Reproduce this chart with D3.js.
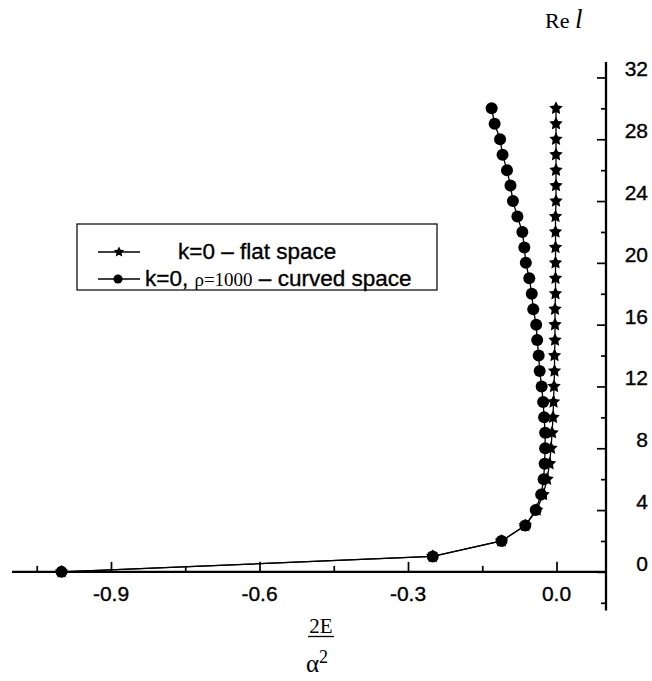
<!DOCTYPE html>
<html>
<head>
<meta charset="utf-8">
<script src="https://cdn.jsdelivr.net/npm/d3@7"></script>
<style>
  html, body { margin: 0; padding: 0; background: #fff; }
  svg { display: block; }
  .sans { font-family: "Liberation Sans", Arial, Helvetica, sans-serif; stroke: #000; stroke-width: 0.35px; }
  .serif { font-family: "Liberation Serif", "Times New Roman", serif; }
</style>
</head>
<body>
<svg id="chart" width="652" height="681"></svg>
<script>
// Orbital angular momentum Re l versus reduced energy 2E/α²
const lValues = [0, 1, 2, 3, 4, 5, 6, 7, 8, 9, 10, 11, 12, 13, 14, 15,
                 16, 17, 18, 19, 20, 21, 22, 23, 24, 25, 26, 27, 28, 29, 30];

// k=0, flat space
const flatEnergy = [-1.000, -0.250, -0.111, -0.063, -0.040, -0.027, -0.019, -0.014,
                    -0.011, -0.009, -0.007, -0.006, -0.005, -0.004, -0.004, -0.003,
                    -0.003, -0.003, -0.002, -0.002, -0.002, -0.002, -0.002, -0.002,
                    -0.001, -0.001, -0.001, -0.001, -0.001, -0.001, -0.001];

// k=0, rho=1000, curved space
const curvedEnergy = [-1.000, -0.250, -0.111, -0.063, -0.042, -0.031, -0.026, -0.024,
                      -0.023, -0.023, -0.025, -0.027, -0.030, -0.034, -0.036, -0.039,
                      -0.041, -0.047, -0.050, -0.055, -0.062, -0.065, -0.069, -0.079,
                      -0.088, -0.093, -0.100, -0.109, -0.114, -0.125, -0.131];

const xTicksMajor = [-0.9, -0.6, -0.3, 0.0];
const xTicksMinor = [-1.05, -0.75, -0.45, -0.15];
const yTicksMajor = [0, 4, 8, 12, 16, 20, 24, 28, 32];
const yTicksMinor = [-2, 2, 6, 10, 14, 18, 22, 26, 30];

const legendLabels = ["k=0 \u2013 flat space", "k=0, ", "\u03c1=1000", " \u2013 curved space"];

const svg = d3.select("#chart");

const x = d3.scaleLinear().domain([-1.1, 0.1]).range([12, 606]);
const y = d3.scaleLinear().domain([-2.5, 33]).range([610.5, 62]);

const flatData = lValues.map((l, i) => ({ l, e: flatEnergy[i] }));
const curvedData = lValues.map((l, i) => ({ l, e: curvedEnergy[i] }));

const line = d3.line().x(d => x(d.e)).y(d => y(d.l));

// five-pointed star with a fuller body than d3.symbolStar
const fatStar = {
  draw(context, size) {
    const R = Math.sqrt(size / 1.2);
    const r = R * 0.5;
    for (let i = 0; i < 10; ++i) {
      const a = -Math.PI / 2 + i * Math.PI / 5;
      const rad = i % 2 ? r : R;
      const px = rad * Math.cos(a), py = rad * Math.sin(a);
      if (i === 0) context.moveTo(px, py); else context.lineTo(px, py);
    }
    context.closePath();
  }
};
const star = d3.symbol().type(fatStar);
const fmt = v => d3.format(".1f")(v).replace("\u2212", "-");

// ---- x axis (drawn through y = 0), ticks point up into the plot
const xAxisG = svg.append("g").attr("transform", `translate(0,${y(0)})`);
xAxisG.append("g")
  .call(d3.axisTop(x).tickValues(xTicksMajor).tickSize(10).tickFormat(""))
  .call(g => g.select(".domain").remove());
xAxisG.append("g")
  .call(d3.axisTop(x).tickValues(xTicksMinor).tickSize(6).tickFormat(""))
  .call(g => g.select(".domain").remove());
xAxisG.selectAll(".tick line").attr("stroke", "#000").attr("stroke-width", 1.7);
xAxisG.append("line")
  .attr("x1", x.range()[0]).attr("x2", x.range()[1])
  .attr("stroke", "#000").attr("stroke-width", 2.3);
xAxisG.selectAll("text.xlab")
  .data(xTicksMajor).join("text")
  .attr("class", "xlab sans")
  .attr("x", d => x(d)).attr("y", 29)
  .attr("text-anchor", "middle")
  .attr("font-size", 21)
  .text(fmt);

// ---- y axis (drawn at right edge), ticks point left into the plot
const yAxisG = svg.append("g").attr("transform", `translate(${x(0.1)},0)`);
yAxisG.append("g")
  .call(d3.axisLeft(y).tickValues(yTicksMajor).tickSize(9).tickFormat(""))
  .call(g => g.select(".domain").remove());
yAxisG.append("g")
  .call(d3.axisLeft(y).tickValues(yTicksMinor).tickSize(5).tickFormat(""))
  .call(g => g.select(".domain").remove());
yAxisG.selectAll(".tick line").attr("stroke", "#000").attr("stroke-width", 1.7);
yAxisG.append("line")
  .attr("y1", y.range()[0]).attr("y2", y.range()[1])
  .attr("stroke", "#000").attr("stroke-width", 2.3);
yAxisG.selectAll("text.ylab")
  .data(yTicksMajor).join("text")
  .attr("class", "ylab sans")
  .attr("x", 42).attr("y", d => y(d) - 1)
  .attr("text-anchor", "end")
  .attr("font-size", 21)
  .text(d => d);

// ---- series: flat space (stars)
svg.append("path").datum(flatData)
  .attr("d", line).attr("fill", "none")
  .attr("stroke", "#000").attr("stroke-width", 1.3);
svg.append("g").selectAll("path")
  .data(flatData).join("path")
  .attr("transform", d => `translate(${x(d.e)},${y(d.l)})`)
  .attr("d", star.size(60)())
  .attr("fill", "#000");

// ---- series: curved space (filled circles)
svg.append("path").datum(curvedData)
  .attr("d", line).attr("fill", "none")
  .attr("stroke", "#000").attr("stroke-width", 1.3);
svg.append("g").selectAll("circle")
  .data(curvedData).join("circle")
  .attr("cx", d => x(d.e)).attr("cy", d => y(d.l))
  .attr("r", 6).attr("fill", "#000");

// ---- axis titles
const yTitle = svg.append("text").attr("class", "serif")
  .attr("x", 545).attr("y", 28).attr("font-size", 22);
yTitle.append("tspan").text("Re ");
yTitle.append("tspan").attr("font-style", "italic").attr("font-size", 27).text("l");

const xTitle = svg.append("g").attr("class", "serif");
xTitle.append("text")
  .attr("x", 321).attr("y", 633).attr("text-anchor", "middle")
  .attr("font-size", 21).text("2E");
xTitle.append("line")
  .attr("x1", 308).attr("x2", 334).attr("y1", 636.5).attr("y2", 636.5)
  .attr("stroke", "#000").attr("stroke-width", 1.3);
const alpha = xTitle.append("text").attr("x", 306).attr("y", 672).attr("font-size", 25);
alpha.append("tspan").text("\u03b1");
alpha.append("tspan").attr("font-size", 18).attr("dy", -9).text("2");

// ---- legend
const legend = svg.append("g");
legend.append("rect")
  .attr("x", 77).attr("y", 224).attr("width", 360).attr("height", 66)
  .attr("fill", "#fff").attr("stroke", "#000").attr("stroke-width", 1.2);

legend.append("line").attr("x1", 98).attr("x2", 140).attr("y1", 252).attr("y2", 252)
  .attr("stroke", "#000").attr("stroke-width", 1.3);
legend.append("path").attr("transform", "translate(119,252)")
  .attr("d", star.size(36)()).attr("fill", "#000");
legend.append("text").attr("class", "sans")
  .attr("x", 178).attr("y", 259).attr("font-size", 22.5).text(legendLabels[0]);

legend.append("line").attr("x1", 98).attr("x2", 140).attr("y1", 279).attr("y2", 279)
  .attr("stroke", "#000").attr("stroke-width", 1.3);
legend.append("circle").attr("cx", 118).attr("cy", 279).attr("r", 4.6).attr("fill", "#000");
const row2 = legend.append("text").attr("class", "sans")
  .attr("x", 145).attr("y", 286).attr("font-size", 22.5);
row2.append("tspan").text(legendLabels[1]);
row2.append("tspan").attr("font-size", 19).attr("stroke-width", 0)
  .attr("font-family", "'Liberation Serif', 'Times New Roman', serif").text(legendLabels[2]);
row2.append("tspan").text(legendLabels[3]);
</script>
</body>
</html>
